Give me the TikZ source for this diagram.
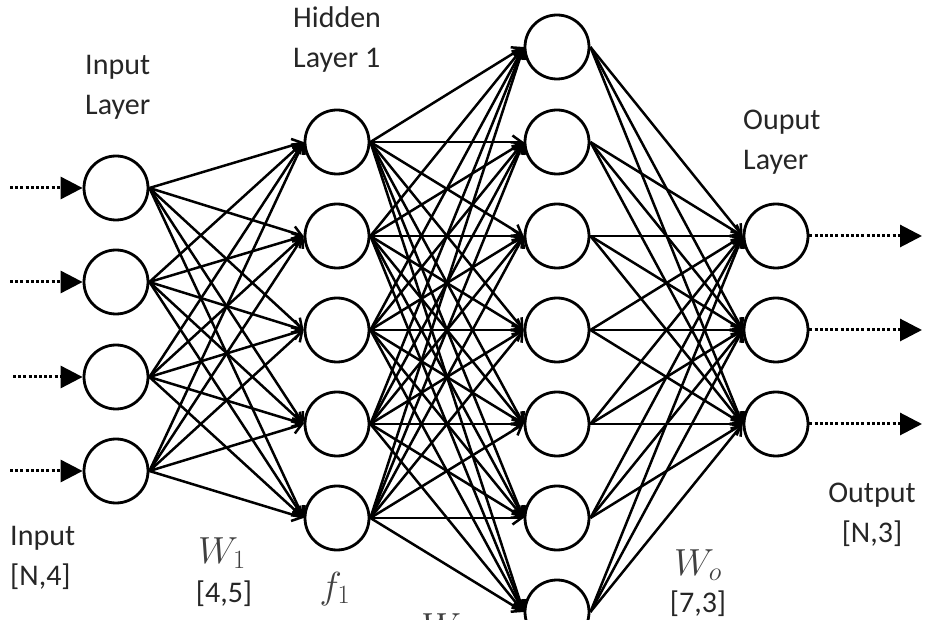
\RequirePackage{fix-cm}
\documentclass[tikz,border=0pt]{standalone}
\usepackage{fontspec}
\setmainfont{Carlito}
\usetikzlibrary{arrows.meta}
\begin{document}
\begin{tikzpicture}[x=1pt,y=-1pt,
  neuron/.style={circle,draw=black,line width=2.8pt,minimum size=64pt,inner sep=0pt,fill=white},
  edge/.style={line width=2.5pt,-{Straight Barb[length=9pt,width=13pt,line width=2.5pt]}},
  inarrow/.style={line width=3pt,dash pattern=on 3pt off 2.2pt,-{Triangle[length=22pt,width=22pt]}},
  lbl/.style={font=\fontsize{30}{40}\selectfont,text=black!85,inner sep=0pt},
  mlbl/.style={font=\fontsize{29}{38}\selectfont,text=black!75,inner sep=0pt,scale=1.3,transform shape}]
\useasboundingbox (0,0) rectangle (930,620);
\foreach \n/\y in {1/188,2/282,3/377,4/471} \coordinate (ip\n) at (116,\y);
\foreach \n/\y in {1/142,2/236,3/330,4/424,5/518} \coordinate (hp\n) at (337,\y);
\foreach \n/\y in {1/47,2/142,3/236,4/330,5/424,6/518,7/612} \coordinate (gp\n) at (557,\y);
\foreach \n/\y in {1/236,2/330,3/424} \coordinate (op\n) at (776,\y);
% nodes
\foreach \n in {1,...,4} \node[neuron] (i\n) at (ip\n) {};
\foreach \n in {1,...,5} \node[neuron] (h\n) at (hp\n) {};
\foreach \n in {1,...,7} \node[neuron] (g\n) at (gp\n) {};
\foreach \n in {1,...,3} \node[neuron] (o\n) at (op\n) {};
% connections
\foreach \a in {1,...,4} \foreach \b in {1,...,5} \draw[edge] (i\a.east) -- (h\b.west);
\foreach \a in {1,...,5} \foreach \b in {1,...,7} \draw[edge] (h\a.east) -- (g\b.west);
\foreach \a in {1,...,7} \foreach \b in {1,...,3} \draw[edge] (g\a.east) -- (o\b.west);
% input arrows
\coordinate (is1) at (10,188);
\coordinate (is2) at (10,282);
\coordinate (is3) at (13,377);
\coordinate (is4) at (10,471);
\foreach \n in {1,...,4} \draw[inarrow] (is\n) -- (i\n.west);
% output arrows
\foreach \n/\y in {1/236,2/330,3/424} \coordinate (oe\n) at (922,\y);
\foreach \n in {1,...,3} \draw[inarrow] (o\n.east) -- (oe\n);
% labels (base anchor = baseline of last line)
\node[lbl,anchor=base west,align=left] (tin) at (85,115) {Input\\Layer};
\node[lbl,anchor=base west,align=left] (thid) at (293,68) {Hidden\\Layer 1};
\node[lbl,anchor=base west,align=left] (tout) at (743,170) {Ouput\\Layer};
\node[lbl,anchor=base west,align=left] (tx) at (10,585) {Input\\{}[N,4]};
\node[lbl,anchor=base,align=center] (ty) at (872,542) {Output\\{}[N,3]};
\node[mlbl,anchor=base] (tw1) at (222,563) {$W_1$};
\node[lbl,anchor=base] (tw1s) at (224,602) {[4,5]};
\node[mlbl,anchor=base] (tf1) at (335,598) {$f_1$};
\node[mlbl,anchor=base] (tw2) at (445,639) {$W_2$};
\node[mlbl,anchor=base] (two) at (698,575) {$W_o$};
\node[lbl,anchor=base] (twos) at (698,612) {[7,3]};
\end{tikzpicture}
\end{document}
